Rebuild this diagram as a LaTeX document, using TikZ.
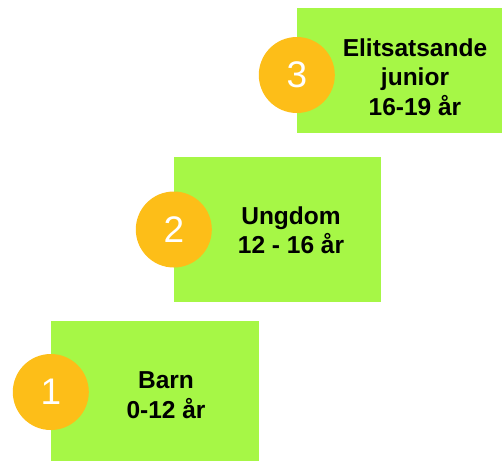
\documentclass[tikz,border=0pt]{standalone}
\usepackage{fontspec}
\setmainfont{Liberation Sans}
\definecolor{stepgreen}{HTML}{A6F746}
\definecolor{steporange}{HTML}{FDBE18}

\begin{document}
\begin{tikzpicture}[x=1pt, y=-1pt,
    stepbox/.style={fill=stepgreen, inner sep=0pt},
    stepnum/.style={circle, fill=steporange, minimum size=76pt, inner sep=0pt, text=white, font=\fontsize{37}{37}\selectfont},
    steptext/.style={align=center, font=\bfseries\fontsize{24.5}{29.5}\selectfont}]
        \useasboundingbox (0,0) rectangle (502,461);

        % boxes
        \node[stepbox, minimum width=208pt, minimum height=140pt] (b1) at (155,391) {};
        \node[stepbox, minimum width=207pt, minimum height=145pt] (b2) at (277.5,229.5) {};
        \node[stepbox, minimum width=205pt, minimum height=125pt] (b3) at (399.5,70.5) {};

        % texts
        \node[steptext] (t1) at (166,395) {Barn\\0-12 år};
        \node[steptext] (t2) at (291,230) {Ungdom\\12 - 16 år};
        \node[steptext] (t3) at (415,77) {Elitsatsande\\junior\\16-19 år};

        % circles
        \node[stepnum] (c1) at ([yshift=-1pt]b1.west) {1};
        \node[stepnum] (c2) at (b2.west) {2};
        \node[stepnum] (c3) at ([yshift=-4.5pt]b3.west) {3};
    \end{tikzpicture}
\end{document}
